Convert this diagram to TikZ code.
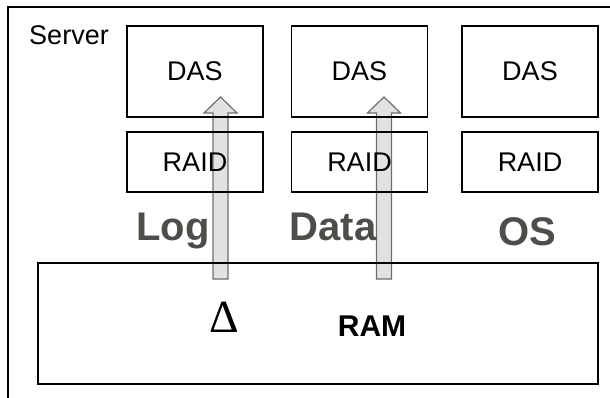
\documentclass[tikz,border=0pt]{standalone}
\usepackage{fontspec}
\setmainfont{Liberation Sans}
\newfontfamily\greekserif{Liberation Serif}
\usetikzlibrary{positioning,backgrounds}
\definecolor{labelgray}{HTML}{4D4D4A}
\definecolor{arrowfill}{HTML}{E2E2E2}
\definecolor{arrowline}{HTML}{6E6E6A}
\tikzstyle{blockarrow} = [draw=arrowline, line width=1.2pt, fill=arrowfill]
\newcommand{\uparrowblock}[2]{%
  \draw[blockarrow] ([xshift=-7.5]#1) -- ([xshift=-7.5,yshift=-16]#2) -- ([xshift=-16.5,yshift=-16]#2) -- (#2)
    -- ([xshift=16.5,yshift=-16]#2) -- ([xshift=7.5,yshift=-16]#2) -- ([xshift=7.5]#1) -- cycle;}

\begin{document}
\begin{tikzpicture}[x=1pt, y=-1pt]
		\useasboundingbox (0,0) rectangle (610,398);
		\clip (0,0) rectangle (610,398);
		\coordinate (das1) at (195,71.5);
		\coordinate (das2) at (359.5,71.5);
		\coordinate (das3) at (530,71.5);
		\coordinate (raid1) at (195,162);
		\coordinate (raid2) at (359.5,162);
		\coordinate (raid3) at (530,162);
		\coordinate (ram) at (318,323.5);
		% Server frame
		\draw[line width=2pt] (8,420) -- (8,7) -- (630,7);
		\node[anchor=base, font=\fontsize{27}{31}\selectfont, name=server] at (69,45) {Server};
		% Disks
		\begin{scope}[every node/.style={draw, line width=1.5pt, rectangle, minimum width=136pt, minimum height=91pt, inner sep=0pt, font=\fontsize{27}{31}\selectfont}]
		\node[name=das1] at (das1) {DAS};
		\node[name=das2] at (das2) {DAS};
		\node[name=das3] at (das3) {DAS};
		\end{scope}
		% RAID controllers
		\begin{scope}[every node/.style={draw, line width=1.5pt, rectangle, minimum width=136pt, minimum height=60pt, inner sep=0pt, font=\fontsize{27}{31}\selectfont}]
		\node[name=raid1] at (raid1) {RAID};
		\node[name=raid2] at (raid2) {RAID};
		\node[name=raid3] at (raid3) {RAID};
		\end{scope}
		% Memory
		\node[draw, line width=1.5pt, rectangle, minimum width=560pt, minimum height=121pt, name=ram] at (ram) {};
		\node[anchor=base, font=\bfseries\fontsize{30}{34}\selectfont, name=ramlabel] at (372,336) {RAM};
		\node[anchor=base, font=\greekserif\fontsize{46}{50}\selectfont, inner sep=0pt, name=delta] at (224,332) {Δ};
		% Volume labels
		\begin{scope}[every node/.style={anchor=base, text=labelgray, font=\bfseries\fontsize{40}{44}\selectfont}]
		\node[name=log] at (173,240) {Log};
		\node[name=data] at (333,240) {Data};
		\node[name=os] at (527,245) {OS};
		\end{scope}
		% Flushes from RAM to disk
		\coordinate (logtail) at (220.5,279);
		\coordinate (logtip) at (220.5,97);
		\coordinate (datatail) at (384,279);
		\coordinate (datatip) at (384,97);
		\begin{scope}[on background layer]
		\uparrowblock{logtail}{logtip}
		\uparrowblock{datatail}{datatip}
		\end{scope}
		\end{tikzpicture}
\end{document}
